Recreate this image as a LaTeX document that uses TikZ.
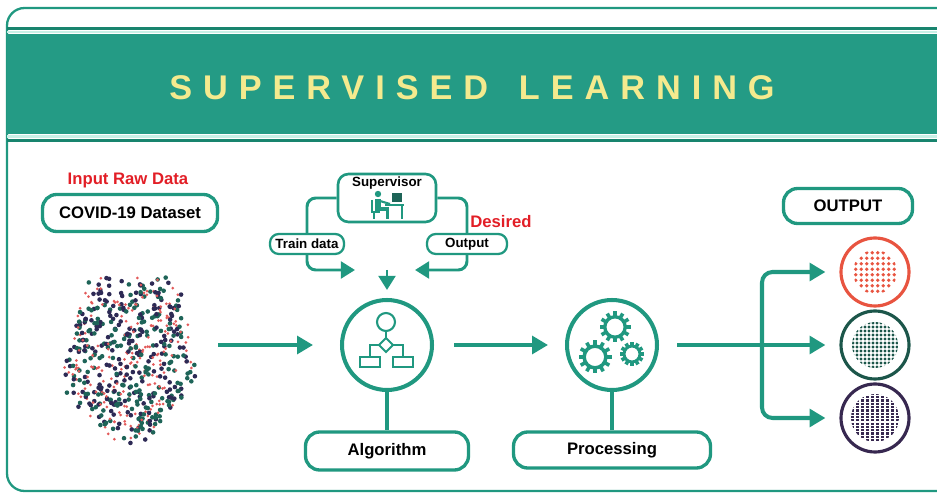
\documentclass[tikz,border=0pt]{standalone}
\usepackage{fontspec}
\setmainfont{Liberation Sans}
\newfontfamily\titlefont[LetterSpace=32]{Liberation Sans}
\usetikzlibrary{arrows.meta}
\definecolor{grn}{RGB}{32,152,128}
\definecolor{band}{RGB}{36,155,133}
\definecolor{bandline}{RGB}{24,132,110}
\definecolor{mint}{RGB}{200,240,230}
\definecolor{gold}{RGB}{244,234,142}
\definecolor{lblred}{RGB}{226,30,38}
\definecolor{dotc0}{RGB}{30,100,88}
\definecolor{dotc1}{RGB}{45,42,85}
\definecolor{dotc2}{RGB}{226,90,90}
\definecolor{outred}{RGB}{232,84,64}
\definecolor{outgrn}{RGB}{28,86,74}
\definecolor{outvio}{RGB}{55,40,80}
\newcommand{\gear}[4]{%
	\begin{scope}[shift={(#1,#2)}]
		\draw[grn, line width=#4] (0,0) circle ({0.66*#3});
		\foreach \a in {0,30,...,330}
			\fill[grn, rotate=\a] (-1.8,{0.7*#3}) rectangle (1.8,#3);
	\end{scope}}
\begin{document}
\begin{tikzpicture}[x=0.02cm,y=-0.02cm,font=\bfseries\fontsize{9.5}{11}\selectfont,
		box/.style={draw=grn,line width=1.9pt,rounded corners=8pt,fill=white,inner sep=0pt},
		smallbox/.style={box,line width=1.3pt,rounded corners=5pt,font=\bfseries\fontsize{7.6}{9}\selectfont},
		ring/.style={circle,draw=grn,line width=2.3pt,minimum size=1.8cm,inner sep=0pt},
		outring/.style={circle,line width=1.8pt,minimum size=1.36cm,inner sep=0pt},
		link/.style={draw=grn,line width=2.3pt},
		thinlink/.style={draw=grn,line width=1.7pt},
		arr/.style={link,-{Triangle[length=9pt,width=10pt]}},
		smallarr/.style={thinlink,-{Triangle[length=8pt,width=9.5pt]}},
		lbl/.style={text=lblred}]
	\useasboundingbox (0,0) rectangle (937,496);
	\clip (0,0) rectangle (937,496);
	\draw[grn,line width=1.3pt,rounded corners=10pt] (7,8) rectangle (990,491);
	\fill[band] (7,34) rectangle (937,134);
	\draw[bandline,line width=1.8pt] (7,28.5) -- (937,28.5);
	\draw[mint,line width=1.3pt] (7,32) -- (937,32);
	\draw[mint,line width=1.3pt] (7,136.5) -- (937,136.5);
	\draw[bandline,line width=1.8pt] (7,140.5) -- (937,140.5);
	\node[text=gold,font=\titlefont\bfseries\fontsize{19.5}{22}\selectfont] (title) at (472,88) {SUPERVISED\hspace{0.9em}LEARNING};

	\node[lbl] (inlbl) at (128,180) {Input Raw Data};
	\node[box,minimum width=3.5cm,minimum height=0.74cm] (dataset) at (130,213) {COVID-19 Dataset};
	\pgfmathsetseed{4}
	\foreach \i in {1,...,620}{
		\pgfmathsetmacro\ang{360*rnd}
		\pgfmathsetmacro\rad{sqrt(rnd)*(0.82+0.22*rnd)*(1+0.08*sin(5*\ang))}
		\pgfmathsetmacro\col{int(3*rnd)}
		\pgfmathsetmacro\dr{ifthenelse(\col==2,1.5,2.3)}
		\fill[fill=dotc\col] ({130+66*\rad*cos(\ang)},{357+86*\rad*sin(\ang)}) circle (\dr);
	}
	\coordinate (cloudR) at (218,345);

	\node[box,line width=1.5pt,rounded corners=6pt,minimum width=1.96cm,minimum height=0.96cm] (sup) at (387,198) {};
	\node[font=\bfseries\fontsize{7.6}{9}\selectfont] (suptxt) at (387,183) {Supervisor};
	\fill[grn] (378,194) circle (3.2);
	\fill[grn] (375,199) rectangle (381,210);
	\fill[grn] (375,207) rectangle (389,211);
	\fill[grn] (386,207) rectangle (389,219);
	\draw[grn,line width=1pt] (372,200) -- (372,212) -- (380,212) (374,212) -- (374,219);
	\draw[grn,line width=1.2pt] (380,201) -- (390,204);
	\fill[grn] (385,204) rectangle (404,206.5);
	\fill[dotc0] (392,193) rectangle (402,202);
	\draw[grn,line width=1pt] (402,206) -- (402,219);
	\node[smallbox,minimum width=1.48cm,minimum height=0.4cm] (train) at (307,244) {Train data};
	\node[smallbox,minimum width=1.6cm,minimum height=0.4cm] (outb) at (467,244) {Output};
	\node[lbl] (desired) at (501,222) {Desired};
	\coordinate (merge) at (387,270);
	\draw[thinlink,rounded corners=5pt] (sup.west) -| (train.north);
	\draw[thinlink,rounded corners=5pt] (sup.east) -| (outb.north);
	\draw[smallarr,rounded corners=5pt,shorten >=0.64cm] (train.south) |- (merge);
	\draw[smallarr,rounded corners=5pt,shorten >=0.56cm] (outb.south) |- (merge);

	\node[ring] (algo) at (387,345) {};
	\draw[grn,line width=1.2pt] (386,322) circle (9);
	\draw[grn,line width=1.2pt] (386,331) -- (386,338);
	\draw[grn,line width=1.2pt] (386,338) -- (393,345) -- (386,352) -- (379,345) -- cycle;
	\draw[grn,line width=1.2pt] (379,345) -- (370,345) -- (370,357) (393,345) -- (403,345) -- (403,357);
	\draw[grn,line width=1.2pt] (360,357) rectangle (380,367) (393,357) rectangle (413,367);
	\node[box,minimum width=3.26cm,minimum height=0.76cm] (algobox) at (387,451) {Algorithm};
	\draw[smallarr,shorten >=0.16cm] (merge) -- (algo.north);
	\draw[arr,shorten >=0.54cm] (cloudR) -- (algo.west);
	\draw[link] (algo.south) -- (algobox.north);

	\node[ring] (proc) at (612,345) {};
	\gear{615}{327}{15.5}{1.9pt}
	\gear{595}{357}{16.5}{2pt}
	\gear{632}{354}{12}{1.6pt}
	\node[box,minimum width=3.94cm,minimum height=0.72cm] (procbox) at (612,450) {Processing};
	\draw[arr,shorten <=0.4cm,shorten >=0.34cm] (algo.east) -- (proc.west);
	\draw[link] (proc.south) -- (procbox.north);

	\node[box,minimum width=2.58cm,minimum height=0.7cm] (outlbl) at (848,206) {OUTPUT};
	\node[outring,draw=outred] (o1) at (875,272) {};
	\node[outring,draw=outgrn] (o2) at (875,345) {};
	\node[outring,draw=outvio] (o3) at (875,418) {};
	\begin{scope}[shift={(o1.center)}]
		\clip (0,0) circle (22);
		\foreach \dx in {-19.25,-13.75,...,20}
			\foreach \dy in {-19.25,-13.75,...,20}
				\fill[outred] (\dx,\dy) circle (1.8);
	\end{scope}
	\begin{scope}[shift={(o2.center)}]
		\clip (0,0) circle (23);
		\foreach \dx in {-22,-18,...,22}
			\foreach \dy in {-22,-18,...,22}
				\fill[outgrn] (\dx,\dy) circle (1.6);
	\end{scope}
	\begin{scope}[shift={(o3.center)}]
		\clip (0,0) circle (24);
		\foreach \dx in {-22.5,-17.5,...,23}
			\foreach \dy in {-24,-20.7,...,24}
				\fill[outvio] (\dx-1.6,\dy-1.1) rectangle (\dx+1.6,\dy+1.1);
	\end{scope}
	\coordinate (split) at (762,345);
	\draw[link,shorten <=0.36cm] (proc.east) -- (split);
	\draw[arr,shorten >=0.28cm] (split) -- (o2.west);
	\draw[arr,rounded corners=6pt,shorten >=0.28cm] (split) |- (o1.west);
	\draw[arr,rounded corners=6pt,shorten >=0.28cm] (split) |- (o3.west);
\end{tikzpicture}
\end{document}
